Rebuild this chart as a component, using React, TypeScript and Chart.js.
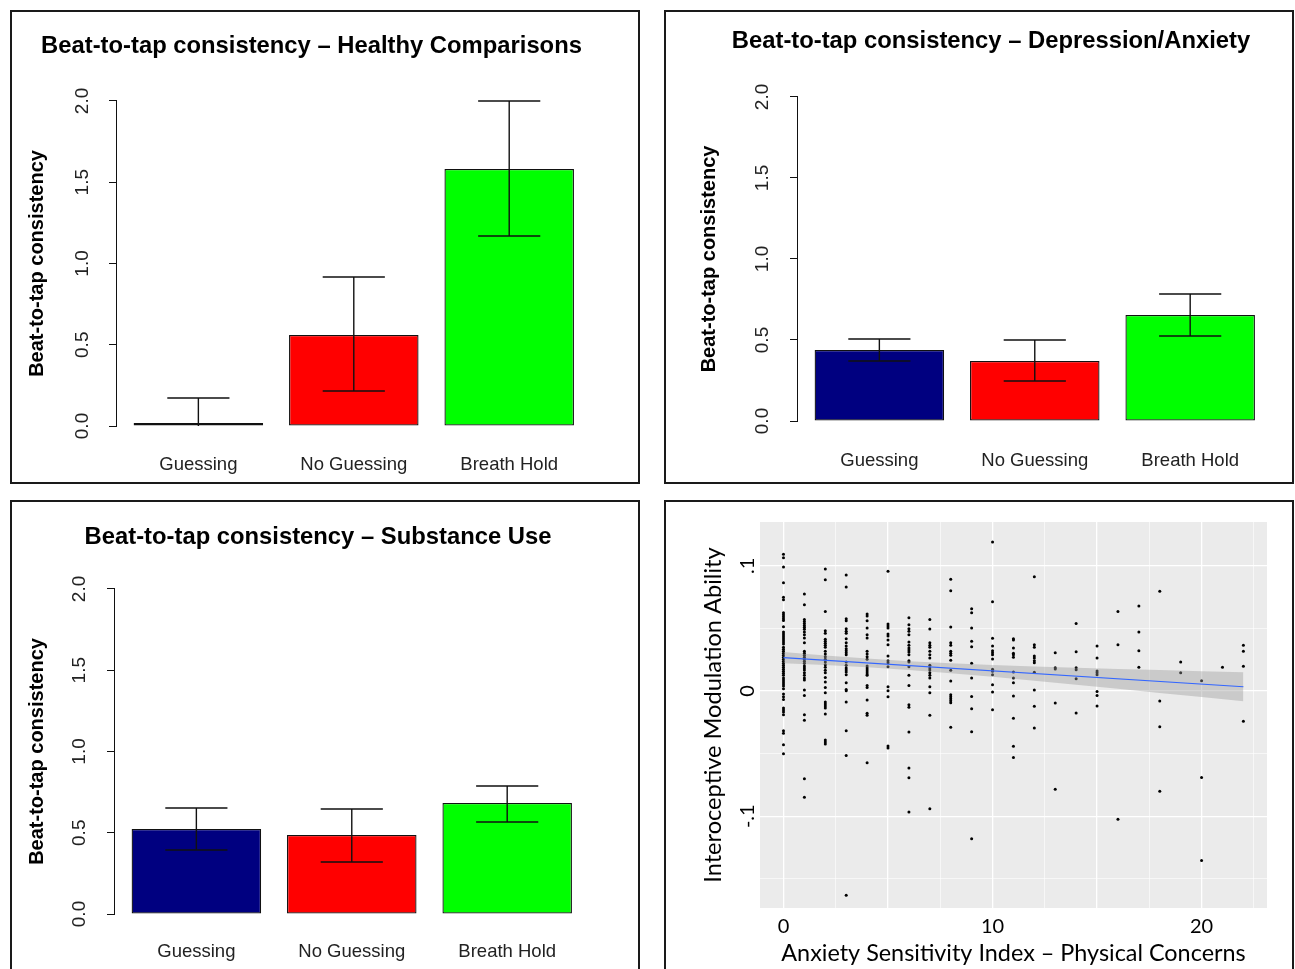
import React, { useEffect, useRef } from 'react';
import { Chart, registerables } from 'chart.js';

Chart.register(...registerables);
Chart.defaults.font.family = '"Liberation Sans", Arial, sans-serif';

// ---------- Bar panels data ----------
const barCategories = ['Guessing', 'No Guessing', 'Breath Hold'];
const barColors = ['#000080', '#FF0000', '#00FF00'];
const barYTicks = [0, 0.5, 1, 1.5, 2];

const healthyMeans = [0.018, 0.56, 1.582];
const healthyLower = [-0.136, 0.215, 1.169];
const healthyUpper = [0.172, 0.917, 2.0];

const depressionMeans = [0.438, 0.37, 0.654];
const depressionLower = [0.37, 0.247, 0.525];
const depressionUpper = [0.506, 0.5, 0.784];

const substanceMeans = [0.523, 0.486, 0.683];
const substanceLower = [0.394, 0.32, 0.566];
const substanceUpper = [0.652, 0.646, 0.788];

// ---------- Scatter panel data ----------
const asiScores = [0, 1, 2, 3, 4, 5, 6, 7, 8, 9, 10, 11, 12, 13, 14, 15, 16, 17, 18, 19, 20, 21, 22];
const modulationByScore: number[][] = [
  [0.1092, 0.1065, 0.099, 0.0865, 0.0748, 0.0729, 0.0626, 0.061, 0.0594, 0.0578, 0.0564, 0.0514, 0.0471, 0.0455, 0.0439, 0.0423, 0.0407, 0.0391, 0.0375, 0.0349, 0.0333, 0.0317, 0.0301, 0.0285, 0.0269, 0.0253, 0.0237, 0.0221, 0.0205, 0.0189, 0.0173, 0.0157, 0.0141, 0.0125, 0.0104, 0.0088, 0.0072, 0.0056, 0.004, 0.0019, -0.0024, -0.0045, -0.0067, -0.0136, -0.0152, -0.0168, -0.0189, -0.0317, -0.0338, -0.0429, -0.0501],
  [0.0775, 0.069, 0.0572, 0.0556, 0.054, 0.0524, 0.0509, 0.0493, 0.0471, 0.045, 0.0423, 0.0386, 0.0317, 0.0301, 0.0285, 0.0269, 0.0253, 0.0237, 0.0221, 0.02, 0.0184, 0.0168, 0.0146, 0.0125, 0.0104, 0.0088, 0.0008, -0.0035, -0.0189, -0.0234, -0.07, -0.0849],
  [0.0974, 0.0889, 0.0636, 0.0482, 0.0461, 0.0413, 0.0397, 0.0381, 0.0365, 0.0349, 0.0317, 0.0296, 0.0274, 0.0253, 0.0232, 0.021, 0.0189, 0.0165, 0.0146, 0.0109, 0.0072, 0.0029, -0.0013, -0.0088, -0.0104, -0.012, -0.0136, -0.0184, -0.0391, -0.0407, -0.0423],
  [0.0927, 0.0831, 0.0578, 0.0562, 0.0498, 0.0477, 0.0461, 0.0418, 0.0386, 0.0359, 0.0338, 0.0322, 0.0306, 0.029, 0.0232, 0.0205, 0.0184, 0.0168, 0.0152, 0.013, 0.0067, 0.0013, 0.0003, -0.0088, -0.0317, -0.0514, -0.1632],
  [0.0615, 0.0599, 0.0562, 0.0503, 0.045, 0.0423, 0.0317, 0.0296, 0.0274, 0.0253, 0.02, 0.0184, 0.0168, 0.0152, 0.0136, 0.0125, 0.0045, 0.0029, -0.0072, -0.0178, -0.0194, -0.0572],
  [0.0956, 0.0535, 0.0519, 0.0503, 0.0455, 0.0439, 0.0407, 0.037, 0.028, 0.0242, 0.0226, 0.0194, 0.0035, 0.0003, -0.0045, -0.0439, -0.0455],
  [0.0586, 0.053, 0.0498, 0.0477, 0.045, 0.0391, 0.0365, 0.0343, 0.0327, 0.0312, 0.029, 0.0242, 0.0232, 0.0194, 0.0125, 0.0045, -0.0109, -0.013, -0.0327, -0.0615, -0.0692, -0.0966],
  [0.0572, 0.0495, 0.0386, 0.0365, 0.0349, 0.0317, 0.029, 0.0264, 0.0205, 0.0184, 0.0168, 0.0146, 0.0125, 0.0104, 0.0035, -0.0013, -0.0194, -0.094],
  [0.0892, 0.0801, 0.0511, 0.0386, 0.0365, 0.0317, 0.0301, 0.0285, 0.0245, 0.0165, 0.008, -0.0029, -0.0045, -0.0061, -0.0077, -0.0093, -0.029],
  [0.0658, 0.0626, 0.0503, 0.0397, 0.0354, 0.0221, 0.0104, -0.0043, -0.0141, -0.0325, -0.1179],
  [0.119, 0.0714, 0.0421, 0.0359, 0.0322, 0.0306, 0.029, 0.0256, 0.0173, 0.0157, 0.013, 0.0051, -0.0008, -0.0149],
  [0.0418, 0.0407, 0.0343, 0.0301, 0.029, 0.0269, 0.0152, 0.0104, 0.0067, -0.004, -0.0218, -0.0442, -0.053],
  [0.0913, 0.037, 0.0349, 0.028, 0.0264, 0.0242, 0.0226, 0.0149, 0.0008, -0.0122, -0.0296],
  [0.0306, 0.0186, 0.0176, -0.0096, -0.0785],
  [0.054, 0.0314, 0.0186, 0.017, 0.0099, -0.0176],
  [0.0359, 0.0264, 0.016, 0.0146, 0.013, -0.0003, -0.0035, -0.012],
  [0.0636, 0.037, -0.1025],
  [0.0679, 0.0471, 0.0322, 0.0189],
  [0.0796, -0.008, -0.0285, -0.0801],
  [0.0232, 0.0146],
  [0.0083, -0.069, -0.1353],
  [0.0189],
  [0.0365, 0.0317, 0.0197, -0.0242],
];
const fitX = [0, 22];
const fitY = [0.0266, 0.0034];
const bandX = [0, 2, 4, 6, 8, 10, 12, 14, 16, 18, 20, 22];
const bandUpper = [0.0311, 0.0283, 0.0259, 0.0238, 0.0222, 0.0208, 0.0196, 0.0186, 0.0176, 0.0167, 0.0158, 0.0149];
const bandLower = [0.0221, 0.0207, 0.0189, 0.0168, 0.0142, 0.0114, 0.0082, 0.005, 0.0018, -0.0015, -0.0048, -0.0081];
const scatterXGrid = [0, 2.5, 5, 7.5, 10, 12.5, 15, 17.5, 20, 22.5];
const scatterXLabelled = [0, 10, 20];
const scatterYGrid = [-0.15, -0.1, -0.05, 0, 0.05, 0.1];
const scatterYLabelValues = [-0.1, 0, 0.1];
const scatterYLabelTexts = ['-.1', '0', '.1'];

// R barplot midpoints (width 1, space 0.2)
const barPositions = barCategories.map((_, i) => 0.7 + 1.2 * i);

type Geo = {
  W: number; H: number; pl: number; pr: number; titlePt: number; titlePb: number;
  yWidth: number; xHeight: number; yTitlePad: number; xMax: number; xLabelPad: number; yLabelPad: number;
};

function errorBarPlugin(lower: number[], upper: number[]) {
  return {
    id: 'errorBars',
    afterDatasetsDraw(chart: any) {
      const { ctx, chartArea } = chart;
      const xs = chart.scales.x;
      const ys = chart.scales.y;
      ctx.save();
      ctx.beginPath();
      ctx.rect(chartArea.left, 0, chartArea.right - chartArea.left, chartArea.bottom);
      ctx.clip();
      ctx.strokeStyle = '#111';
      ctx.lineWidth = 1.4;
      barPositions.forEach((p, i) => {
        const cx = xs.getPixelForValue(p);
        const x0 = xs.getPixelForValue(p - 0.24);
        const x1 = xs.getPixelForValue(p + 0.24);
        const yl = ys.getPixelForValue(lower[i]);
        const yu = ys.getPixelForValue(upper[i]);
        ctx.beginPath();
        ctx.moveTo(cx, yl); ctx.lineTo(cx, yu);
        ctx.moveTo(x0, yu); ctx.lineTo(x1, yu);
        ctx.moveTo(x0, yl); ctx.lineTo(x1, yl);
        ctx.stroke();
      });
      ctx.restore();
    },
  };
}

function barConfig(title: string, means: number[], lower: number[], upper: number[], g: Geo): any {
  return {
    type: 'bar',
    data: {
      datasets: [{
        data: means.map((m, i) => ({ x: barPositions[i], y: m })),
        backgroundColor: barColors,
        borderColor: '#111',
        borderWidth: 1.3,
        borderSkipped: false,
        categoryPercentage: 1,
        barPercentage: 1 / 1.2,
      }],
    },
    options: {
      responsive: false,
      animation: false,
      devicePixelRatio: 1,
      events: [],
      layout: { padding: { left: g.pl, right: g.pr, top: 0, bottom: 0 } },
      plugins: {
        legend: { display: false },
        tooltip: { enabled: false },
        title: {
          display: true, text: title, color: '#000',
          font: { size: 23.8, weight: 'bold' },
          padding: { top: g.titlePt, bottom: g.titlePb },
        },
      },
      scales: {
        x: {
          type: 'linear', min: 0.064, max: g.xMax, offset: false,
          grid: { display: false, drawTicks: false },
          border: { display: false },
          afterBuildTicks: (s: any) => { s.ticks = barPositions.map((v) => ({ value: v })); },
          ticks: {
            autoSkip: false, minRotation: 0, maxRotation: 0,
            callback: (_v: any, i: number) => barCategories[i],
            color: '#222', font: { size: 18.5 }, padding: g.xLabelPad,
          },
          afterFit: (s: any) => { s.height = g.xHeight; },
        },
        y: {
          type: 'linear', min: 0, max: 2,
          afterBuildTicks: (s: any) => { s.ticks = barYTicks.map((v) => ({ value: v })); },
          ticks: {
            autoSkip: false, minRotation: 90, maxRotation: 90, crossAlign: 'center',
            callback: (v: any) => Number(v).toFixed(1),
            color: '#222', font: { size: 19 }, padding: g.yLabelPad,
          },
          grid: { display: true, drawOnChartArea: false, drawTicks: true, tickLength: 7, color: '#111', lineWidth: 1 },
          border: { display: true, color: '#111', width: 1 },
          title: {
            display: true, text: 'Beat-to-tap consistency', color: '#000',
            font: { size: 20, weight: 'bold' }, padding: { top: g.yTitlePad, bottom: 0 },
          },
          afterFit: (s: any) => { s.width = g.yWidth; },
        },
      },
    },
    plugins: [errorBarPlugin(lower, upper)],
  };
}

function scatterConfig(): any {
  const points = asiScores.flatMap((s, i) => modulationByScore[i].map((v) => ({ x: s, y: v })));
  const bgPlugin = {
    id: 'panelBg',
    beforeDraw(chart: any) {
      const { ctx, chartArea: a } = chart;
      ctx.save();
      ctx.fillStyle = '#EBEBEB';
      ctx.fillRect(a.left, a.top, a.right - a.left, a.bottom - a.top);
      ctx.restore();
    },
  };
  const font = '"Lato", "Open Sans", sans-serif';
  return {
    type: 'scatter',
    data: {
      datasets: [
        { type: 'line', data: fitX.map((x, i) => ({ x, y: fitY[i] })), borderColor: '#3366FF', borderWidth: 1.2, pointRadius: 0, fill: false, order: 0 },
        { type: 'line', data: bandX.map((x, i) => ({ x, y: bandUpper[i] })), borderWidth: 0, borderColor: 'rgba(0,0,0,0)', pointRadius: 0, fill: false, order: 1 },
        { type: 'line', data: bandX.map((x, i) => ({ x, y: bandLower[i] })), borderWidth: 0, borderColor: 'rgba(0,0,0,0)', pointRadius: 0, fill: '-1', backgroundColor: 'rgba(153,153,153,0.4)', order: 1 },
        { type: 'scatter', data: points, pointRadius: 1.5, pointBackgroundColor: '#000', pointBorderWidth: 0, order: 2 },
      ],
    },
    options: {
      responsive: false,
      animation: false,
      devicePixelRatio: 1,
      events: [],
      layout: { padding: { left: 0, right: 24, top: 20, bottom: 0 } },
      plugins: { legend: { display: false }, tooltip: { enabled: false } },
      scales: {
        x: {
          type: 'linear', min: -1.124, max: 23.13,
          afterBuildTicks: (s: any) => { s.ticks = scatterXGrid.map((v) => ({ value: v })); },
          ticks: {
            autoSkip: false, minRotation: 0, maxRotation: 0,
            callback: (v: any) => (scatterXLabelled.includes(Number(v)) ? String(v) : ''),
            color: '#000', font: { family: font, size: 20 }, padding: 7,
          },
          grid: {
            color: '#FFFFFF', drawTicks: false,
            lineWidth: (c: any) => (c.tick && c.tick.value % 5 === 0 ? 1.3 : 0.6),
          },
          border: { display: false },
          title: {
            display: true, text: 'Anxiety Sensitivity Index – Physical Concerns', color: '#000',
            font: { family: font, size: 23.4 }, padding: { top: 0, bottom: 2 },
          },
          afterFit: (s: any) => { s.height = 61; },
        },
        y: {
          type: 'linear', min: -0.1733, max: 0.135,
          afterBuildTicks: (s: any) => { s.ticks = scatterYGrid.map((v) => ({ value: v })); },
          ticks: {
            autoSkip: false, minRotation: 90, maxRotation: 90, crossAlign: 'center',
            callback: (v: any) => {
              const k = scatterYLabelValues.findIndex((t) => Math.abs(t - Number(v)) < 1e-9);
              return k >= 0 ? scatterYLabelTexts[k] : '';
            },
            color: '#000', font: { family: font, size: 20 }, padding: 1,
          },
          grid: {
            color: '#FFFFFF', drawTicks: false,
            lineWidth: (c: any) => (c.tick && scatterYLabelValues.some((t) => Math.abs(t - c.tick.value) < 1e-9) ? 1.3 : 0.6),
          },
          border: { display: false },
          title: {
            display: true, text: 'Interoceptive Modulation Ability', color: '#000',
            font: { family: font, size: 23.6 }, padding: { top: 32.8, bottom: 0 },
          },
          afterFit: (s: any) => { s.width = 94; },
        },
      },
    },
    plugins: [bgPlugin],
  };
}

function ChartCanvas({ left, top, width, height, make }: { left: number; top: number; width: number; height: number; make: () => any }) {
  const ref = useRef<HTMLCanvasElement>(null);
  useEffect(() => {
    const chart = new Chart(ref.current as HTMLCanvasElement, make());
    return () => chart.destroy();
  }, []);
  return (
    <canvas ref={ref} width={width} height={height}
      style={{ position: 'absolute', left, top, width, height, display: 'block' }} />
  );
}

function PanelBorder({ left, top, width, height }: { left: number; top: number; width: number; height: number }) {
  return (
    <div style={{
      position: 'absolute', left, top, width, height, boxSizing: 'border-box',
      border: '2px solid #1a1a1a', pointerEvents: 'none',
    }} />
  );
}

const geo1: Geo = { W: 626, H: 470, pl: 11, pr: 38, titlePt: 19.7, titlePb: 40.7, yWidth: 93, xHeight: 56, yTitlePad: 2, xMax: 3.801, xLabelPad: 28, yLabelPad: 12.8 };
const geo2: Geo = { W: 625, H: 470, pl: 27, pr: 2, titlePt: 14.7, titlePb: 41.7, yWidth: 104, xHeight: 61, yTitlePad: 4, xMax: 3.863, xLabelPad: 29, yLabelPad: 13.8 };
const geo3: Geo = { W: 626, H: 467, pl: 11, pr: 25, titlePt: 20.7, titlePb: 37.7, yWidth: 91, xHeight: 55, yTitlePad: 2, xMax: 3.917, xLabelPad: 27, yLabelPad: 13.8 };

export default function App() {
  return (
    <div style={{ position: 'absolute', left: 0, top: 0, width: 1295, height: 969, overflow: 'hidden', background: '#fff' }}>
      <ChartCanvas left={12} top={12} width={geo1.W} height={geo1.H}
        make={() => barConfig('Beat-to-tap consistency – Healthy Comparisons', healthyMeans, healthyLower, healthyUpper, geo1)} />
      <ChartCanvas left={666} top={12} width={geo2.W} height={geo2.H}
        make={() => barConfig('Beat-to-tap consistency – Depression/Anxiety', depressionMeans, depressionLower, depressionUpper, geo2)} />
      <ChartCanvas left={12} top={502} width={geo3.W} height={geo3.H}
        make={() => barConfig('Beat-to-tap consistency – Substance Use', substanceMeans, substanceLower, substanceUpper, geo3)} />
      <ChartCanvas left={666} top={502} width={625} height={467} make={scatterConfig} />
      <PanelBorder left={10} top={10} width={630} height={474} />
      <PanelBorder left={664} top={10} width={630} height={474} />
      <PanelBorder left={10} top={500} width={630} height={490} />
      <PanelBorder left={664} top={500} width={630} height={490} />
    </div>
  );
}
